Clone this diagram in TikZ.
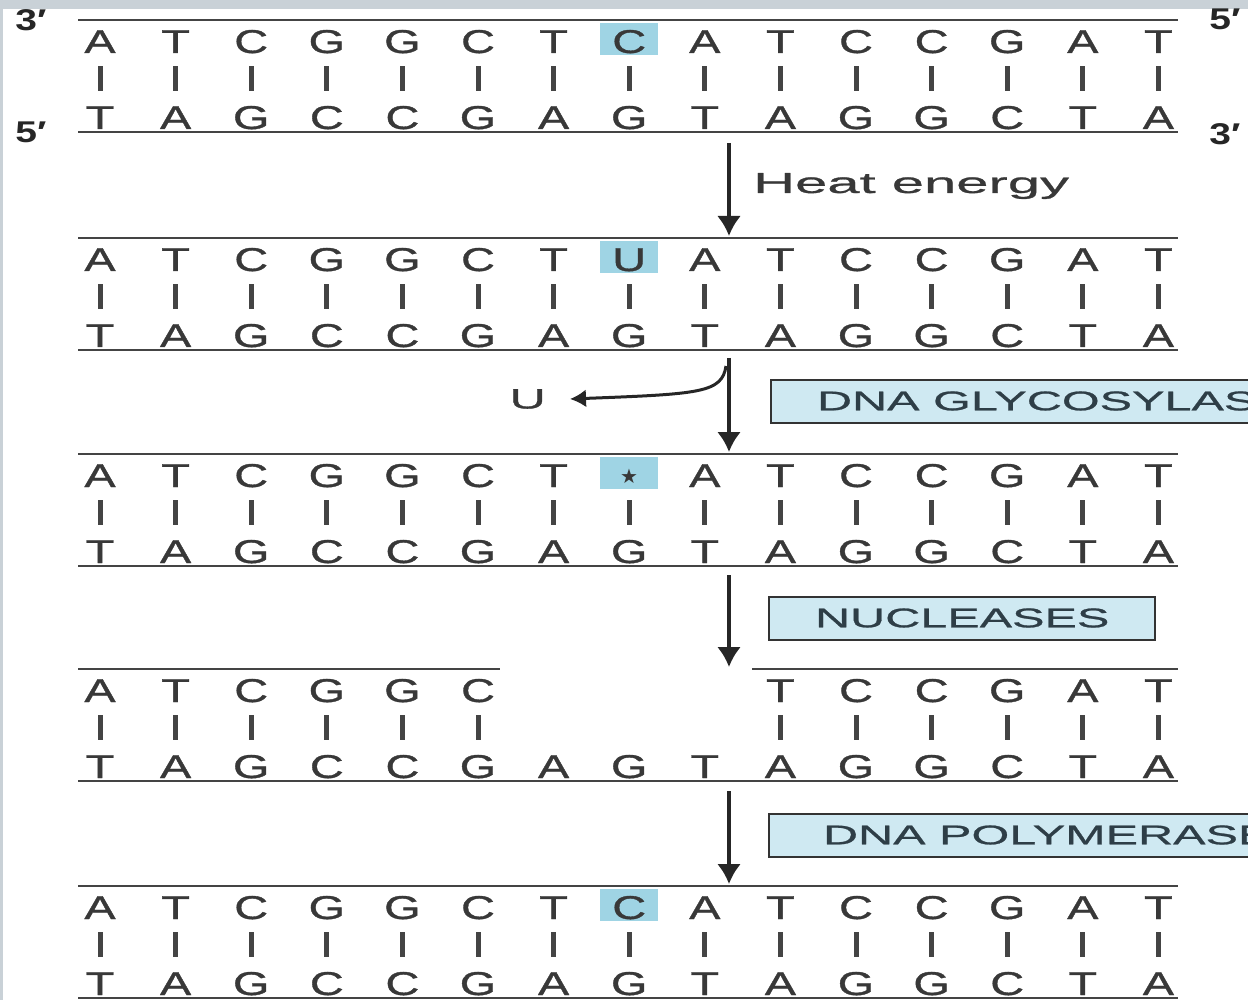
\documentclass[tikz,border=0pt]{standalone}
\usepackage{fontspec}
\setmainfont{Liberation Sans}
\newfontfamily\seqfont[FakeStretch=1.42, FakeBold=1.1]{Liberation Sans}
\newfontfamily\labfont[FakeStretch=1.8, FakeBold=0.9]{Liberation Sans}
\newfontfamily\heatfont[FakeStretch=2.0, FakeBold=0.9]{Liberation Sans}
\newfontfamily\endfont[FakeStretch=1.3]{Liberation Sans}
\newfontfamily\symfont{DejaVu Sans}
\usetikzlibrary{arrows.meta, positioning}
\definecolor{seq}{HTML}{383838}
\definecolor{strand}{HTML}{444444}
\definecolor{hl}{HTML}{9FD4E4}
\definecolor{enz}{HTML}{CFE9F2}
\definecolor{enztext}{HTML}{2E3E47}
\definecolor{frame}{HTML}{C9D1D7}
\newcommand\abasic{{\symfont\fontsize{20}{20}\selectfont\raisebox{4pt}{★}}}

\begin{document}
\begin{tikzpicture}[x=1pt, y=-1pt, >={Latex[length=20pt, width=24pt]},
    base/.style={font=\seqfont\fontsize{33}{33}\selectfont, text=seq, inner sep=0pt, text height=30pt, text depth=2pt, minimum width=58pt, anchor=base},
    swap/.style={base, fill=hl},
    strandline/.style={draw=strand, line width=2.5pt},
    bond/.style={draw=strand, line width=5pt},
    flow/.style={draw=black!85, line width=3.5pt, ->},
    enzyme/.style={draw=black!80, line width=2pt, fill=enz, text=enztext, font=\labfont\fontsize{27}{27}\selectfont, minimum height=43pt, inner xsep=46pt, anchor=west},
    lab/.style={font=\labfont\fontsize{28}{28}\selectfont, text=seq, inner sep=0pt},
    prime/.style={font=\endfont\bfseries\fontsize{30}{30}\selectfont, text=black!85, inner sep=0pt}]

  \useasboundingbox (0,0) rectangle (1248,1000);
  \clip (0,0) rectangle (1248,1000);

  % frame of the scan
  \fill[frame] (0,0) rectangle (1248,9);
  \fill[frame] (0,0) rectangle (3,1000);

  % upper strands, full length
  \foreach \n/\y/\m in {1/20/C, 2/238/U, 3/454/\abasic, 5/886/C} {
    \foreach \b/\s [count=\i] in {A/base,T/base,C/base,G/base,G/base,C/base,T/base,\m/swap,A/base,T/base,C/base,C/base,G/base,A/base,T/base}
      \node[\s] (t\n-\i) at ({100+75.6*(\i-1)}, \y+33) {\b};
    \coordinate (u\n-l) at (78,\y);
    \coordinate (u\n-r) at (1178,\y);
    \draw[strandline] (u\n-l) -- (u\n-r);
  }

  % upper strand after excision (gap at 7--9)
  \foreach \b [count=\i] in {A,T,C,G,G,C}
    \node[base] (t4-\i) at ({100+75.6*(\i-1)}, 702) {\b};
  \foreach \b [count=\i from 10] in {T,C,C,G,A,T}
    \node[base] (t4-\i) at ({100+75.6*(\i-1)}, 702) {\b};
  \coordinate (u4-l) at (78,669);
  \coordinate (u4-m) at (500,669);
  \coordinate (u4-n) at (752,669);
  \coordinate (u4-r) at (1178,669);
  \draw[strandline] (u4-l) -- (u4-m);
  \draw[strandline] (u4-n) -- (u4-r);

  % lower strands
  \foreach \n/\y in {1/20, 2/238, 3/454, 4/669, 5/886} {
    \foreach \b [count=\i] in {T,A,G,C,C,G,A,G,T,A,G,G,C,T,A}
      \node[base] (b\n-\i) at ({100+75.6*(\i-1)}, \y+109) {\b};
    \coordinate (l\n-l) at (78,\y+112);
    \coordinate (l\n-r) at (1178,\y+112);
    \draw[strandline] (l\n-l) -- (l\n-r);
  }

  % base pairs
  \foreach \n in {1,2,3,5}
    \foreach \i in {1,...,15}
      \draw[bond] ([yshift=-11pt]t\n-\i.south) -- ([yshift=8pt]b\n-\i.north);
  \foreach \i in {1,...,6,10,11,...,15}
    \draw[bond] ([yshift=-11pt]t4-\i.south) -- ([yshift=8pt]b4-\i.north);

  % 5'/3' ends
  \node[prime] (e1) at (31,20) {3′};
  \node[prime] (e2) at (31,132) {5′};
  \node[prime] (e3) at (1225,19) {5′};
  \node[prime] (e4) at (1225,134) {3′};

  % steps
  \coordinate (s1a) at (729,143);
  \coordinate (s1b) at (729,236);
  \draw[flow] (s1a) -- (s1b);
  \node[lab, font=\heatfont\fontsize{29}{29}\selectfont, anchor=west] (heat) at (753,186) {Heat energy};

  \coordinate (s2a) at (729,358);
  \coordinate (s2b) at (729,452);
  \coordinate (s2c) at (726,366);
  \coordinate (utip) at (570,399);
  \draw[flow] (s2a) -- (s2b);
  \draw[draw=black!85, line width=3pt, -{Latex[length=16pt, width=18pt]}]
    (s2c) .. controls (722,393) and (700,394) .. (utip);
  \node[lab, left=24pt of utip] (ura) {U};
  \node[enzyme] (glyco) at (770,401) {DNA GLYCOSYLASE};

  \coordinate (s3a) at (729,575);
  \coordinate (s3b) at (729,667);
  \draw[flow] (s3a) -- (s3b);
  \node[enzyme] (nucl) at (768,618) {NUCLEASES};

  \coordinate (s4a) at (729,791);
  \coordinate (s4b) at (729,884);
  \draw[flow] (s4a) -- (s4b);
  \node[enzyme, inner xsep=54pt] (poly) at (768,835) {DNA POLYMERASE};
\end{tikzpicture}
\end{document}
